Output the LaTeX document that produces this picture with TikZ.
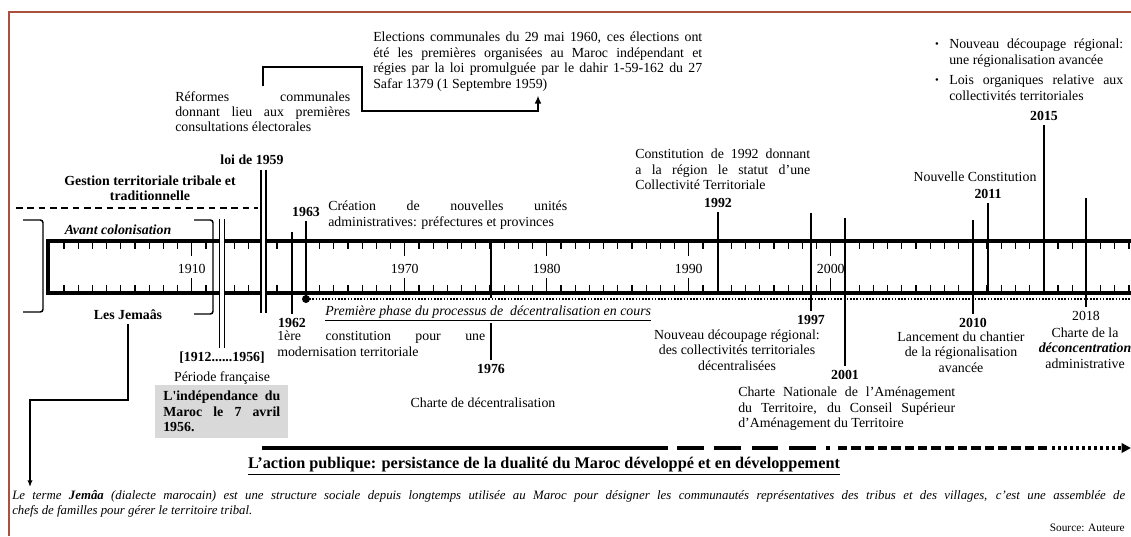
\documentclass[tikz,border=0pt]{standalone}
\usepackage{fontspec}
\setmainfont{Liberation Serif}
\usetikzlibrary{arrows.meta}
\definecolor{framecolor}{HTML}{A9503F}
\definecolor{boxgray}{HTML}{D9D9D9}
\hyphenpenalty=10000
\exhyphenpenalty=10000

\begin{document}
\begin{tikzpicture}[x=0.75pt, y=-0.75pt,
    txt/.style={inner sep=0pt, font=\fontsize{10.4}{11.6}\selectfont},
    yr/.style={inner sep=0pt, font=\fontsize{10.4}{11.6}\selectfont\bfseries},
    jtxt/.style={txt, anchor=north west, align=justify},
    evline/.style={line width=1.9pt},
    dbl/.style={double, double distance=2.6pt, line width=1.1pt},
    tickline/.style={line width=0.9pt},
    brk/.style={line width=1.1pt, rounded corners=2pt},
    actline/.style={line width=3pt}]
    \useasboundingbox (0,0) rectangle (1131,536);

    % Frame
    \draw[framecolor, line width=1.6pt] (9,536) -- (9,12) -- (1131,12);

    % Timeline bar with ticks
    \draw[line width=2.3pt] (1131,241) -- (48,241) -- (48,293) -- (1131,293);
    \foreach \k in {0,...,75} {
        \draw[tickline] ({64+14.2*\k},241) -- ++(0,8);
        \draw[tickline] ({64+14.2*\k},293) -- ++(0,-8);
    }
    \foreach \k/\yr in {9/1910, 24/1970, 34/1980, 44/1990, 54/2000} {
        \draw[tickline] ({64+14.2*\k},241) -- ++(0,15);
        \draw[tickline] ({64+14.2*\k},293) -- ++(0,-15);
        \node[txt] (t\yr) at ({64+14.2*\k},269) {\yr};
    }

    % Before colonisation
    \node[yr, align=center] (gest) at (150,188) {Gestion territoriale tribale et\\traditionnelle};
    \draw[line width=1pt, dash pattern=on 5pt off 3.5pt] (16,208) -- (258,208);
    \node[yr, font=\fontsize{10.4}{11.6}\selectfont\bfseries\itshape] (avant) at (118,230) {Avant colonisation};
    \node[yr] (jemaas) at (128,315) {Les Jemaâs};
    \draw[brk] (23,220) -- (43,220) -- (43,312) -- (23,312);
    \draw[brk] (194,220) -- (213,220) -- (213,314) -- (194,314);

    % French period
    \node[yr] (colper) at (222,358) {[1912......1956]};
    \node[txt] (perfr) at (222,378) {Période française};
    \draw[dbl] ([yshift=3pt]colper.north) -- (colper.north |- 0,219);
    \node[anchor=north west, fill=boxgray, inner xsep=6pt, inner ysep=4.5pt, text width=87.75pt,
        align=justify, font=\fontsize{10.4}{11.6}\selectfont\bfseries] (indep) at (155,385)
        {L\textquotesingle indépendance du\linebreak Maroc le 7 avril\linebreak 1956.};

    % Loi de 1959 and elections
    \node[yr] (loi) at (252,160) {loi de 1959};
    \draw[dbl] (loi.south -| 263.5,0) ++(0,5) -- (263.5,313);
    \node[jtxt, text width=131.25pt] (reformes) at (175,91)
        {Réformes communales\linebreak donnant lieu aux premières\linebreak consultations électorales};
    \node[jtxt, text width=246.75pt] (elections) at (373,32)
        {Elections communales du 29 mai 1960, ces élections ont\linebreak été les premières organisées au Maroc indépendant et\linebreak régies par la loi promulguée par le dahir 1-59-162 du 27\linebreak Safar 1379 (1 Septembre 1959)};
    \coordinate (eltip) at ([yshift=-3pt]elections.south);
    \draw[line width=1.5pt, -{Latex[length=6pt, width=5pt]}]
        ([yshift=4pt]reformes.north) |- (362,67) |- (538,111) -- (eltip -| 538,0);

    % 1962 and 1963
    \node[yr] (y1962) at (292,323) {1962};
    \node[jtxt, text width=156pt] (const62) at (277,331)
        {1ère constitution pour une\linebreak modernisation territoriale};
    \node[yr] (y1963) at (306,212) {1963};
    \node[jtxt, text width=179.25pt] (creation) at (328,201)
        {Création de nouvelles unités\linebreak administratives: préfectures et provinces};
    \coordinate (dotc) at (306,299);
    \fill (dotc) circle (3pt);
    \draw[line width=1.2pt, dash pattern=on 1.2pt off 1.2pt] (dotc) -- (1131,299);
    \node[txt, anchor=west, font=\fontsize{10.4}{11.6}\selectfont\itshape] (phase) at (325,313)
        {\underline{Première phase du processus de~~décentralisation en cours}};

    % 1976
    \node[yr] (y1976) at (491,369) {1976};
    \node[txt] (charte76) at (483,403) {Charte de décentralisation};
    \draw[evline] ([yshift=3pt]y1976.north) -- (y1976.north |- 0,323);
    \draw[evline] (y1976.north |- 0,243) -- (y1976.north |- 0,298);

    % 1992 to 2018
    \node[yr] (y1992) at (718,203) {1992};
    \node[jtxt, text width=131.25pt] (const92) at (635,149)
        {Constitution de 1992 donnant\linebreak a la région le statut d’une\linebreak Collectivité Territoriale};
    \node[yr] (y1997) at (811,320) {1997};
    \node[txt, align=center] (decoup) at (737,350)
        {Nouveau découpage régional:\\des collectivités territoriales\\décentralisées};
    \node[yr] (y2001) at (845,375) {2001};
    \node[jtxt, text width=162.75pt] (cnat) at (738,387)
        {Charte Nationale de l’Aménagement\linebreak du Territoire, du Conseil Supérieur\linebreak d’Aménagement du Territoire};
    \node[yr] (y2010) at (973,323) {2010};
    \node[txt, align=center] (lanc) at (961,352)
        {Lancement du chantier\\de la régionalisation\\avancée};
    \node[yr] (y2011) at (988,194) {2011};
    \node[txt] (nconst) at (975,177) {Nouvelle Constitution};
    \node[yr] (y2015) at (1044,116) {2015};
    \node[txt, font=\fontsize{8}{10}\selectfont] (b1) at (937,45) {\textbullet};
    \node[jtxt, text width=130.5pt] (nvdec) at (949,39)
        {Nouveau découpage régional:\linebreak une régionalisation avancée};
    \node[txt, font=\fontsize{8}{10}\selectfont] (b2) at (937,81) {\textbullet};
    \node[jtxt, text width=130.5pt] (lois) at (949,75)
        {Lois organiques relative aux\linebreak collectivités territoriales};
    \node[txt] (y2018) at (1086,316) {2018};
    \node[txt, align=center] (deconc) at (1085,348)
        {Charte de la\\\textbf{\textit{déconcentration}}\\administrative};

    % Year markers
    \foreach \n/\yb in {y1992/293, y2011/293, y2015/293, y1963/299}
        \draw[evline] ([yshift=-3pt]\n.south) -- (\n.south |- 0,\yb);
    \foreach \n/\ya in {y1962/232, y1997/213, y2001/218, y2010/220, y2018/198}
        \draw[evline] ([yshift=3pt]\n.north) -- (\n.north |- 0,\ya);

    % Public action arrow
    \node[inner sep=0pt, font=\fontsize{12.2}{14}\selectfont\bfseries] (action) at (544,466)
        {\underline{L’action publique: persistance de la dualité du Maroc développé et en développement}};
    \draw[actline] (262,448) -- (668,448);
    \draw[actline, dash pattern=on 20pt off 8pt] (677,448) -- (830,448);
    \draw[actline, dash pattern=on 7pt off 3pt] (838,448) -- (1048,448);
    \draw[actline, dash pattern=on 2pt off 2.5pt, -{Triangle[length=7pt, width=7pt]}] (1052,448) -- (1131,448);

    % Jemaa note
    \draw[line width=1pt, -{Latex[length=5pt, width=4pt]}] ([yshift=-3pt]jemaas.south) |- (30,400) -- (30,487);
    \node[anchor=north west, inner sep=0pt, text width=834.75pt, align=justify,
        font=\fontsize{9.6}{11.25}\selectfont\itshape] (foot) at (12,490)
        {Le terme \textbf{Jemâa} (dialecte marocain) est une structure sociale depuis longtemps utilisée au Maroc pour désigner les communautés représentatives des tribus et des villages, c’est une assemblée de\linebreak chefs de familles pour gérer le territoire tribal.};
    \node[txt, anchor=east, font=\fontsize{8.5}{10}\selectfont] (src) at (1125,528) {Source: Auteure};
\end{tikzpicture}
\end{document}
